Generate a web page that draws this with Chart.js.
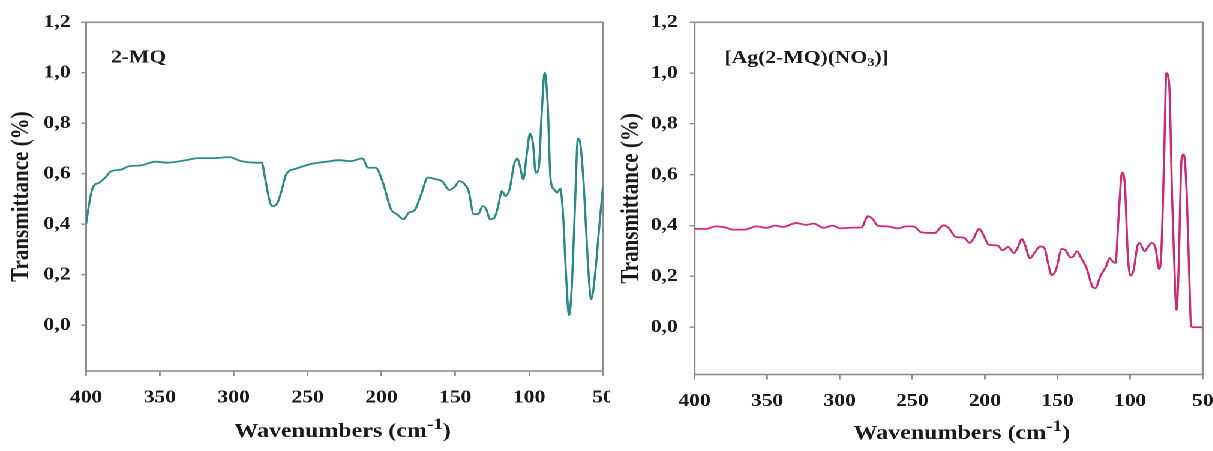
<!DOCTYPE html>
<html>
<head>
<meta charset="utf-8">
<script src="https://cdn.jsdelivr.net/npm/chart.js@4/dist/chart.umd.min.js"></script>
<style>
  html, body { margin: 0; padding: 0; background: #fff; overflow: hidden; }
  /* both panels are laid out narrow and stretched sideways as one strip */
  #strip { position: absolute; left: 0; top: 0; width: 1011px; height: 451px; transform: scaleX(1.2); transform-origin: 0 0; }
  .panel { position: absolute; top: 0; height: 451px; }
</style>
</head>
<body>
<div id="strip">
  <div class="panel" style="left:0;width:508px"><canvas id="mq" width="508" height="451"></canvas></div>
  <div class="panel" style="left:508px;width:503px"><canvas id="ag" width="503" height="451"></canvas></div>
</div>
<script>
// 2-MQ far-IR spectrum
const mqWavenumbers = [400, 399, 397, 395, 391, 387, 383, 376, 371, 363, 353, 345, 332, 324, 313, 303, 295, 284, 281, 279, 276, 274, 271, 268, 264.5, 258, 247, 237, 229, 221, 213, 209, 204, 199, 193.5, 189.5, 185, 181.5, 177.5, 173.5, 168.5, 163, 159, 154, 150, 147.5, 143.5, 141, 137.5, 134.5, 131.5, 129, 126.5, 123.5, 121, 118.5, 116, 113, 110.5, 108, 106.5, 104, 101.5, 99.5, 97.5, 95.5, 93.5, 91.5, 89.5, 87.5, 85.5, 83, 81, 79, 77, 75, 73, 71, 69, 67, 65.5, 63, 60.5, 58, 55.5, 52.5, 50];
const mqTransmittance = [0.40, 0.44, 0.51, 0.55, 0.565, 0.585, 0.61, 0.617, 0.63, 0.633, 0.648, 0.644, 0.654, 0.662, 0.662, 0.666, 0.65, 0.644, 0.644, 0.59, 0.50, 0.472, 0.479, 0.525, 0.598, 0.62, 0.64, 0.648, 0.654, 0.65, 0.661, 0.624, 0.624, 0.565, 0.459, 0.44, 0.42, 0.446, 0.456, 0.512, 0.585, 0.578, 0.571, 0.536, 0.551, 0.571, 0.558, 0.532, 0.44, 0.44, 0.472, 0.459, 0.42, 0.426, 0.472, 0.532, 0.512, 0.545, 0.63, 0.66, 0.637, 0.578, 0.683, 0.759, 0.723, 0.604, 0.624, 0.842, 1.0, 0.88, 0.578, 0.538, 0.525, 0.541, 0.433, 0.195, 0.04, 0.169, 0.472, 0.739, 0.723, 0.551, 0.274, 0.103, 0.195, 0.393, 0.551];

// [Ag(2-MQ)(NO3)] far-IR spectrum
const agWavenumbers = [400, 392, 385.5, 379, 373.5, 365.5, 357.5, 350, 344.5, 339, 330, 323, 318, 311, 305, 299.5, 291.5, 285, 280.5, 277, 274, 267.5, 259.5, 254.5, 249, 244, 234.5, 228.5, 225, 220, 214.5, 210.5, 208, 204, 200, 197.5, 191, 188, 184, 180, 177.5, 174.5, 172, 169, 165.5, 162, 159, 156.5, 154, 151, 147, 144.5, 141, 139, 136.5, 134, 130, 126, 124, 120.5, 116.5, 114, 112, 110, 108, 105.5, 103.5, 101.5, 99.5, 97.5, 95, 93.5, 90, 87.5, 85, 82.5, 80, 78.5, 76.5, 75, 73, 71, 69, 68, 66.5, 64.5, 63, 61, 59, 58, 56, 50];
const agTransmittance = [0.387, 0.387, 0.397, 0.393, 0.384, 0.384, 0.397, 0.391, 0.40, 0.395, 0.41, 0.403, 0.408, 0.391, 0.40, 0.389, 0.392, 0.393, 0.437, 0.424, 0.40, 0.397, 0.389, 0.397, 0.397, 0.374, 0.371, 0.401, 0.391, 0.355, 0.353, 0.332, 0.347, 0.387, 0.351, 0.325, 0.321, 0.303, 0.316, 0.292, 0.312, 0.347, 0.318, 0.271, 0.295, 0.318, 0.312, 0.253, 0.205, 0.226, 0.308, 0.303, 0.275, 0.279, 0.299, 0.276, 0.233, 0.161, 0.154, 0.20, 0.239, 0.272, 0.259, 0.253, 0.424, 0.608, 0.555, 0.279, 0.203, 0.226, 0.318, 0.332, 0.299, 0.318, 0.332, 0.312, 0.229, 0.292, 0.674, 1.0, 0.95, 0.503, 0.161, 0.068, 0.239, 0.661, 0.68, 0.529, 0.161, 0.003, 0, 0];

const yTicks = [0, 0.2, 0.4, 0.6, 0.8, 1.0, 1.2];
const xTicks = [400, 350, 300, 250, 200, 150, 100, 50];

const serif = "'Liberation Serif', 'Times New Roman', serif";
const axisGray = "#8c8c8c";
const ink = "#1a1a1a";

// box round the plot area
const frame = {
  id: "frame",
  beforeDatasetsDraw(chart) {
    const { ctx, chartArea: a } = chart;
    ctx.save();
    ctx.strokeStyle = axisGray;
    ctx.lineWidth = 1.6;
    ctx.strokeRect(a.left, a.top, a.right - a.left, a.bottom - a.top);
    ctx.restore();
  }
};

// draws pieces of text one after another, each with its own size and vertical shift
function drawRuns(ctx, runs, x, y, centred) {
  ctx.save();
  ctx.fillStyle = ink;
  ctx.textBaseline = "alphabetic";
  ctx.textAlign = "left";
  let total = 0;
  runs.forEach(r => {
    ctx.font = "bold " + r.size + "px " + serif;
    r.w = ctx.measureText(r.text).width;
    total += r.w;
  });
  let cx = centred ? x - total / 2 : x;
  runs.forEach(r => {
    ctx.font = "bold " + r.size + "px " + serif;
    ctx.fillText(r.text, cx, y + (r.dy || 0));
    cx += r.w;
  });
  ctx.restore();
}

// compound name inside the plot and the wavenumber axis title
const panelText = {
  id: "panelText",
  afterDraw(chart, args, opts) {
    const ctx = chart.ctx;
    drawRuns(ctx, opts.name, opts.nameX, opts.nameY, false);
    drawRuns(ctx, [
      { text: "Wavenumbers (cm", size: 20 },
      { text: "-1", size: 16, dy: -8 },
      { text: ")", size: 20 }
    ], opts.titleX, opts.titleY, true);
  }
};

function makePanel(id, xs, ys, colour, box, textOpts) {
  const points = xs.map((x, i) => ({ x: x, y: ys[i] }));
  return new Chart(document.getElementById(id), {
    type: "line",
    data: {
      datasets: [{
        data: points,
        borderColor: colour,
        borderWidth: 1.8,
        pointRadius: 0,
        cubicInterpolationMode: "monotone",
        fill: false
      }]
    },
    options: {
      responsive: false,
      animation: false,
      devicePixelRatio: 2,
      layout: { padding: { top: 22.3, right: box.right, left: 0, bottom: 0 } },
      plugins: {
        legend: { display: false },
        tooltip: { enabled: false },
        panelText: textOpts
      },
      scales: {
        x: {
          type: "linear",
          reverse: true,
          min: 50,
          max: 400,
          afterBuildTicks: s => { s.ticks = xTicks.map(v => ({ value: v })); },
          afterFit: s => { s.height = box.xh; s.paddingLeft = 0; s.paddingRight = 0; },
          border: { display: false },
          grid: { drawOnChartArea: false, drawTicks: true, tickLength: 5, color: axisGray, lineWidth: 1.4 },
          ticks: {
            padding: 11,
            maxRotation: 0,
            autoSkip: false,
            color: ink,
            font: { family: serif, size: 18, weight: "bold" }
          }
        },
        y: {
          min: box.ymin,
          max: 1.2,
          afterBuildTicks: s => { s.ticks = yTicks.map(v => ({ value: v })); },
          afterFit: s => { s.width = box.yw; s.paddingTop = 0; s.paddingBottom = 0; },
          border: { display: false },
          grid: { drawOnChartArea: false, drawTicks: true, tickLength: 4, color: axisGray, lineWidth: 1.4 },
          ticks: {
            padding: box.ypad,
            color: ink,
            font: { family: serif, size: 18, weight: "bold" },
            callback: v => v.toFixed(1).replace(".", ",")
          },
          title: {
            display: true,
            text: "Transmittance (%)",
            color: ink,
            font: { family: serif, size: 21, weight: "bold" },
            padding: { top: 5.7, bottom: 0 }
          }
        }
      }
    },
    plugins: [frame, panelText]
  });
}

makePanel("mq", mqWavenumbers, mqTransmittance, "#2b8a87",
  { yw: 71.7, right: 5.5, xh: 80, ymin: -0.181, ypad: 9 },
  { name: [{ text: "2-MQ", size: 18 }], nameX: 92.5, nameY: 62.5, titleX: 285.5, titleY: 437 });

makePanel("ag", agWavenumbers, agTransmittance, "#cf2a78",
  { yw: 70.8, right: 8.8, xh: 76.5, ymin: -0.186, ypad: 10 },
  {
    name: [
      { text: "[Ag(2-MQ)(NO", size: 18 },
      { text: "3", size: 12, dy: 3 },
      { text: ")]", size: 18 }
    ],
    nameX: 95.8, nameY: 63, titleX: 293.5, titleY: 439
  });
</script>
</body>
</html>
